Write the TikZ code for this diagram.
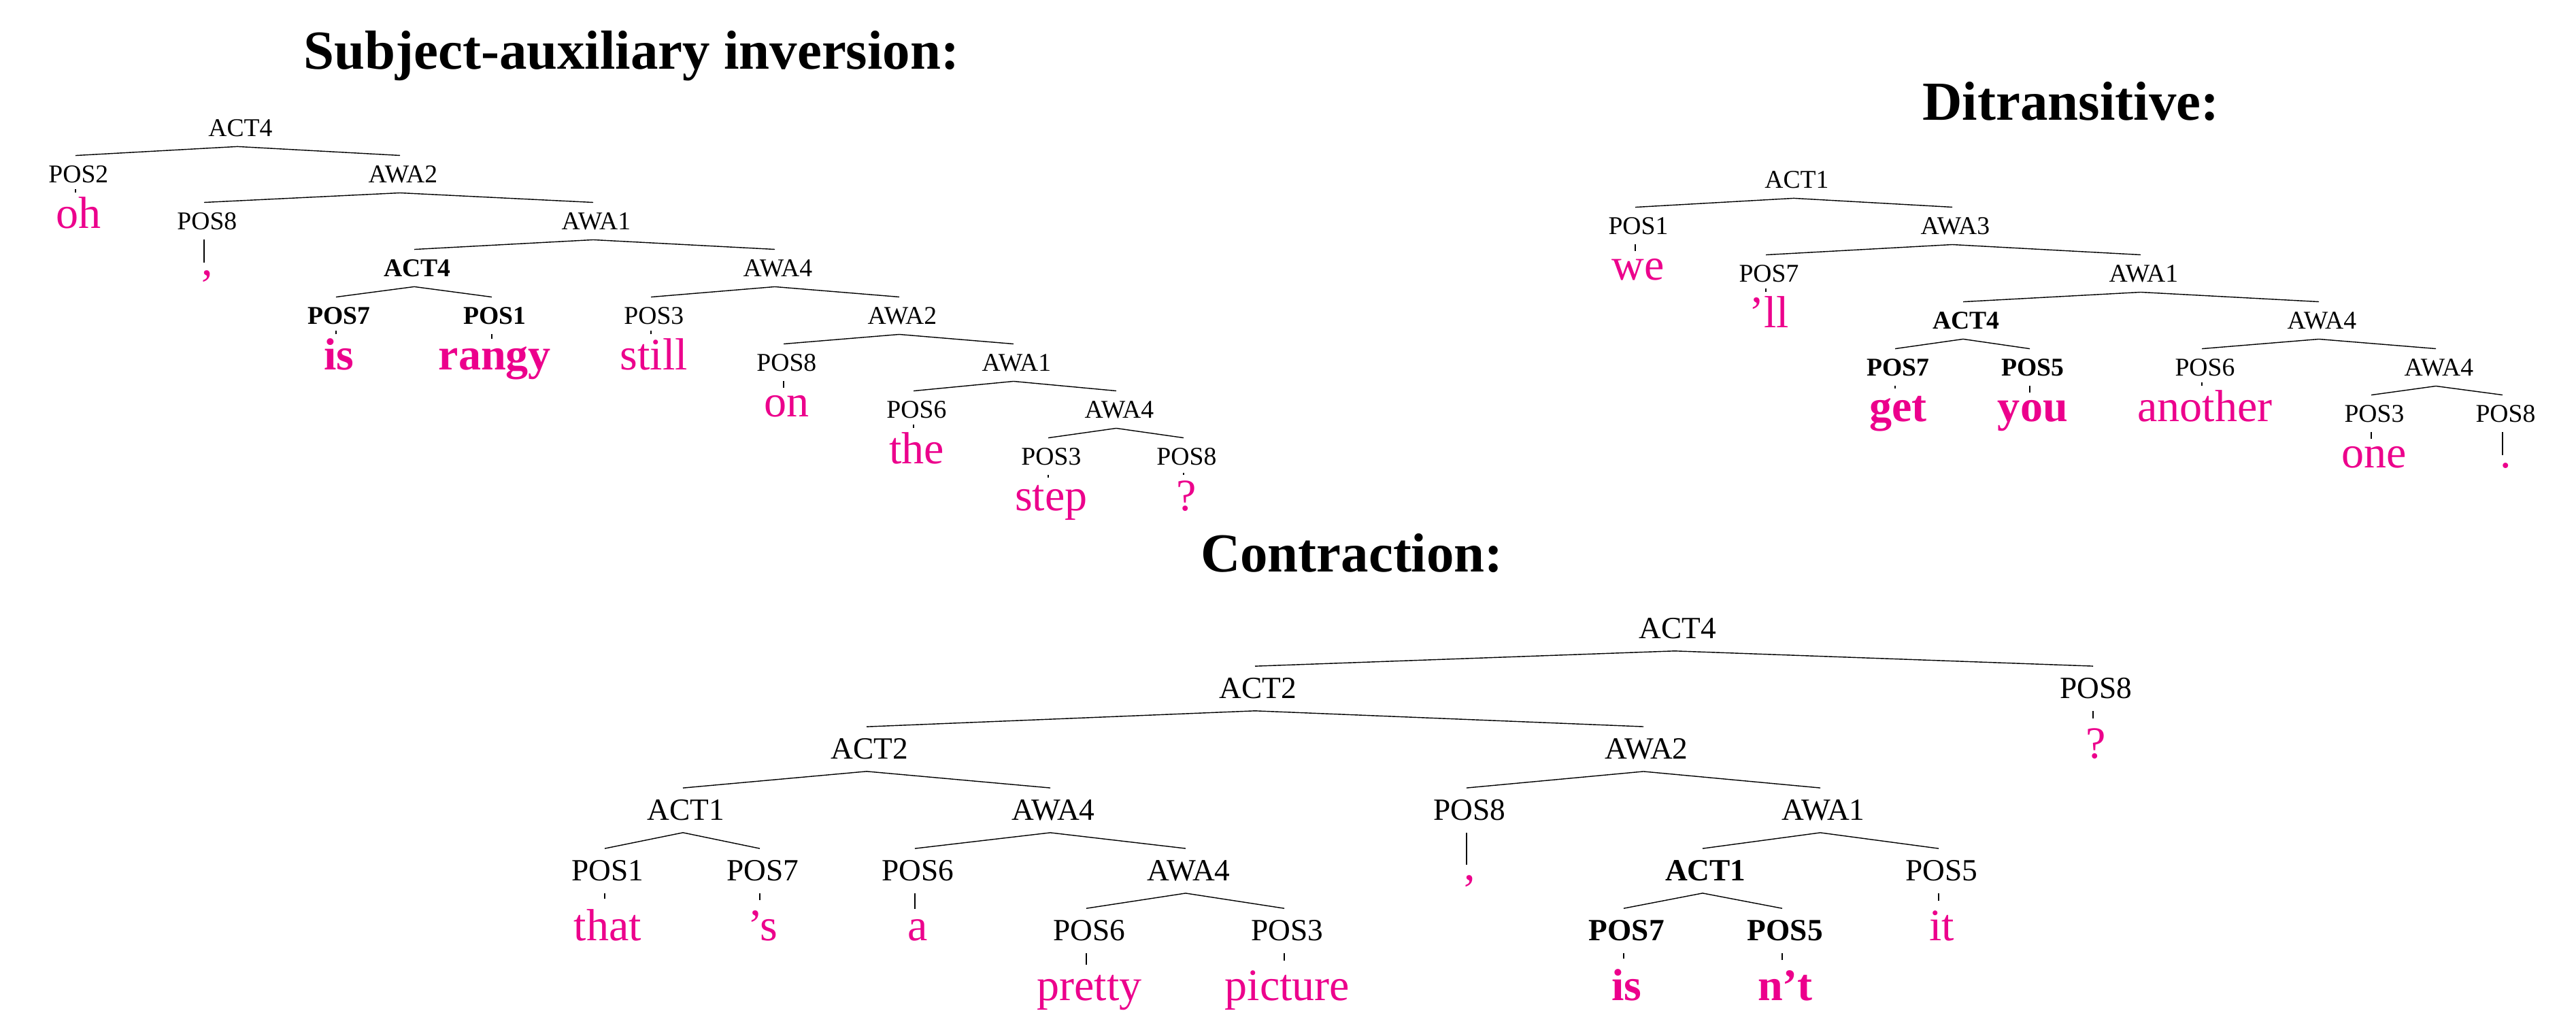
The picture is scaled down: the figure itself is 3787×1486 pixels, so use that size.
\documentclass[tikz,border=0pt]{standalone}
\usepackage{fontspec}
\setmainfont{Liberation Serif}
\usepackage{tikz}
\definecolor{word_pink}		{RGB}{236,0,140}
\newcommand{\labsize}		{ \fontsize{10.7}{13}\selectfont }
\newcommand{\labsizeL}		{ \fontsize{12.9}{15}\selectfont }
\newcommand{\wordsize}		{ \fontsize{18.8}{22}\selectfont }
\newcommand{\headsize}		{ \fontsize{23}{27}\selectfont }

\begin{document}
\begin{tikzpicture}[
		x               = 0.01cm,
		y               = -0.01cm,
		node distance   = 0.79cm,
		lab/.style      = {font = \labsize, inner sep = 4pt},
		labB/.style     = {font = \labsize \bfseries, inner sep = 4pt},
		labL/.style     = {font = \labsizeL, inner sep = 4.8pt},
		labLB/.style    = {font = \labsizeL \bfseries, inner sep = 4.8pt},
		word/.style     = {anchor = base,
			text           = word_pink,
			font           = \wordsize,
			inner sep      = 3pt},
		wordB/.style    = {word, font = \wordsize \bfseries},
		head/.style     = {anchor = base, font = \headsize \bfseries},
		every edge/.style = {draw, line width = 0.4pt}]
		
		\useasboundingbox (0,0) rectangle (3787,1486);
		
		\node[head] (TSai) at (924,102)  {Subject-auxiliary inversion:};
		\node[head] (TDit) at (3040,177) {Ditransitive:};
		\node[head] (TCon) at (1983,841) {Contraction:};
		
		% subject-auxiliary inversion
		\node[lab]  (sR)   at (349,188)  {ACT4};
		\node[lab]  (sP2)  at (111,256)  {POS2};
		\node[lab]  (sW2)  at (588,256)  {AWA2};
		\node[lab]  (sP8)  at (300,325)  {POS8};
		\node[lab]  (sW1)  at (872,325)  {AWA1};
		\node[labB] (sC4)  at (609,394)  {ACT4};
		\node[lab]  (sW4)  at (1139,394) {AWA4};
		\node[labB] (sP7)  at (494,464)  {POS7};
		\node[labB] (sP1)  at (723,464)  {POS1};
		\node[lab]  (sP3)  at (957,464)  {POS3};
		\node[lab]  (sW2b) at (1322,464) {AWA2};
		\node[lab]  (sP8b) at (1152,533) {POS8};
		\node[lab]  (sW1b) at (1490,533) {AWA1};
		\node[lab]  (sP6)  at (1343,602) {POS6};
		\node[lab]  (sW4b) at (1641,602) {AWA4};
		\node[lab]  (sP3b) at (1541,671) {POS3};
		\node[lab]  (sP8c) at (1740,671) {POS8};
		
		\node (sOh)    [below of=sP2,  word]  {oh};
		\node (sComma) [below of=sP8,  word]  {,};
		\node (sIs)    [below of=sP7,  wordB] {is};
		\node (sRangy) [below of=sP1,  wordB] {rangy};
		\node (sStill) [below of=sP3,  word]  {still};
		\node (sOn)    [below of=sP8b, word]  {on};
		\node (sThe)   [below of=sP6,  word]  {the};
		\node (sStep)  [below of=sP3b, word]  {step};
		\node (sQ)     [below of=sP8c, word]  {?};
		
		\path (sR.south)   edge (sP2.north)  edge (sW2.north);
		\path (sW2.south)  edge (sP8.north)  edge (sW1.north);
		\path (sW1.south)  edge (sC4.north)  edge (sW4.north);
		\path (sC4.south)  edge (sP7.north)  edge (sP1.north);
		\path (sW4.south)  edge (sP3.north)  edge (sW2b.north);
		\path (sW2b.south) edge (sP8b.north) edge (sW1b.north);
		\path (sW1b.south) edge (sP6.north)  edge (sW4b.north);
		\path (sW4b.south) edge (sP3b.north) edge (sP8c.north);
		
		\path (sP2.south)  edge (sOh.north);
		\path (sP8.south)  edge (sComma.north);
		\path (sP7.south)  edge (sIs.north);
		\path (sP1.south)  edge (sRangy.north);
		\path (sP3.south)  edge (sStill.north);
		\path (sP8b.south) edge (sOn.north);
		\path (sP6.south)  edge (sThe.north);
		\path (sP3b.south) edge (sStep.north);
		\path (sP8c.south) edge (sQ.north);
		
		% ditransitive
		\node[lab]  (dR)   at (2637,264) {ACT1};
		\node[lab]  (dP1)  at (2404,332) {POS1};
		\node[lab]  (dW3)  at (2870,332) {AWA3};
		\node[lab]  (dP7)  at (2596,402) {POS7};
		\node[lab]  (dW1)  at (3147,402) {AWA1};
		\node[labB] (dC4)  at (2886,471) {ACT4};
		\node[lab]  (dW4)  at (3409,471) {AWA4};
		\node[labB] (dP7b) at (2786,540) {POS7};
		\node[labB] (dP5)  at (2984,540) {POS5};
		\node[lab]  (dP6)  at (3237,540) {POS6};
		\node[lab]  (dW4b) at (3581,540) {AWA4};
		\node[lab]  (dP3)  at (3486,608) {POS3};
		\node[lab]  (dP8)  at (3679,608) {POS8};
		
		\node (dWe)      [below of=dP1,  word]  {we};
		\node (dLl)      [below of=dP7,  word]  {'ll};
		\node (dGet)     [below of=dP7b, wordB] {get};
		\node (dYou)     [below of=dP5,  wordB] {you};
		\node (dAnother) [below of=dP6,  word]  {another};
		\node (dOne)     [below of=dP3,  word]  {one};
		\node (dDot)     [below of=dP8,  word]  {.};
		
		\path (dR.south)   edge (dP1.north)  edge (dW3.north);
		\path (dW3.south)  edge (dP7.north)  edge (dW1.north);
		\path (dW1.south)  edge (dC4.north)  edge (dW4.north);
		\path (dC4.south)  edge (dP7b.north) edge (dP5.north);
		\path (dW4.south)  edge (dP6.north)  edge (dW4b.north);
		\path (dW4b.south) edge (dP3.north)  edge (dP8.north);
		
		\path (dP1.south)  edge (dWe.north);
		\path (dP7.south)  edge (dLl.north);
		\path (dP7b.south) edge (dGet.north);
		\path (dP5.south)  edge (dYou.north);
		\path (dP6.south)  edge (dAnother.north);
		\path (dP3.south)  edge (dOne.north);
		\path (dP8.south)  edge (dDot.north);
		
		% contraction
		\begin{scope}[node distance = 1.02cm, word/.append style = {inner sep = 4pt}]
		\node[labL]  (cR)   at (2462,924)  {ACT4};
		\node[labL]  (cA2)  at (1845,1012) {ACT2};
		\node[labL]  (cP8)  at (3077,1012) {POS8};
		\node[labL]  (cA2b) at (1274,1101) {ACT2};
		\node[labL]  (cW2)  at (2416,1101) {AWA2};
		\node[labL]  (cA1)  at (1004,1191) {ACT1};
		\node[labL]  (cW4)  at (1544,1191) {AWA4};
		\node[labL]  (cP8b) at (2156,1191) {POS8};
		\node[labL]  (cW1)  at (2676,1191) {AWA1};
		\node[labL]  (cP1)  at (889,1280)  {POS1};
		\node[labL]  (cP7)  at (1117,1280) {POS7};
		\node[labL]  (cP6)  at (1345,1280) {POS6};
		\node[labL]  (cW4b) at (1743,1280) {AWA4};
		\node[labLB] (cC1)  at (2503,1280) {ACT1};
		\node[labL]  (cP5)  at (2850,1280) {POS5};
		\node[labL]  (cP6b) at (1597,1368) {POS6};
		\node[labL]  (cP3)  at (1888,1368) {POS3};
		\node[labLB] (cP7b) at (2387,1368) {POS7};
		\node[labLB] (cP5b) at (2620,1368) {POS5};
		
		\node (cQ)       [below of=cP8,  word]  {?};
		\node (cThat)    [below of=cP1,  word]  {that};
		\node (cS)       [below of=cP7,  word]  {'s};
		\node (cA)       [below of=cP6,  word]  {a};
		\node (cPretty)  [below of=cP6b, word]  {pretty};
		\node (cPicture) [below of=cP3,  word]  {picture};
		\node (cComma)   [below of=cP8b, word]  {,};
		\node (cIs)      [below of=cP7b, wordB] {is};
		\node (cNt)      [below of=cP5b, wordB] {n't};
		\node (cIt)      [below of=cP5,  word]  {it};
		
		\path (cR.south)   edge (cA2.north)  edge (cP8.north);
		\path (cA2.south)  edge (cA2b.north) edge (cW2.north);
		\path (cA2b.south) edge (cA1.north)  edge (cW4.north);
		\path (cA1.south)  edge (cP1.north)  edge (cP7.north);
		\path (cW4.south)  edge (cP6.north)  edge (cW4b.north);
		\path (cW4b.south) edge (cP6b.north) edge (cP3.north);
		\path (cW2.south)  edge (cP8b.north) edge (cW1.north);
		\path (cW1.south)  edge (cC1.north)  edge (cP5.north);
		\path (cC1.south)  edge (cP7b.north) edge (cP5b.north);
		
		\path (cP8.south)  edge (cQ.north);
		\path (cP1.south)  edge (cThat.north);
		\path (cP7.south)  edge (cS.north);
		\path (cP6.south)  edge (cA.north);
		\path (cP6b.south) edge (cPretty.north);
		\path (cP3.south)  edge (cPicture.north);
		\path (cP8b.south) edge (cComma.north);
		\path (cP7b.south) edge (cIs.north);
		\path (cP5b.south) edge (cNt.north);
		\path (cP5.south)  edge (cIt.north);
		\end{scope}
		
	\end{tikzpicture}
\end{document}
